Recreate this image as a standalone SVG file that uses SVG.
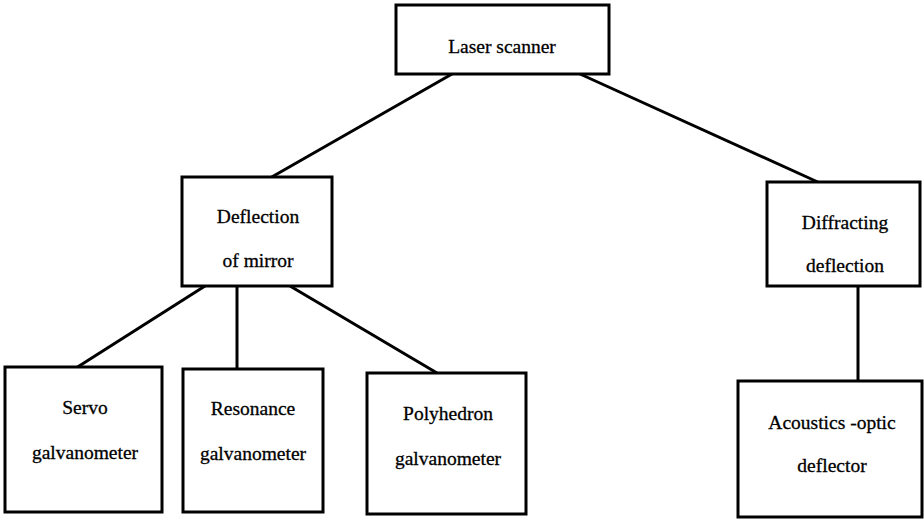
<svg xmlns="http://www.w3.org/2000/svg" width="924" height="520" viewBox="0 0 924 520">
<style>
.box{fill:#fff;stroke:#000;stroke-width:3}
text{font-family:'Liberation Serif','Times New Roman',serif;font-size:19.5px;fill:#000;stroke:#000;stroke-width:0.3;text-anchor:middle}
.c line{stroke:#000;stroke-width:3}
</style>
<rect width="924" height="520" fill="#fff"/>
<g class="c" id="connectors">
<line x1="452" y1="74" x2="270" y2="178"/>
<line x1="580" y1="74" x2="820" y2="183"/>
<line x1="205" y1="286" x2="76" y2="368"/>
<line x1="237" y1="286" x2="237" y2="369"/>
<line x1="290" y1="286" x2="437" y2="373"/>
<line x1="858" y1="286" x2="858" y2="381"/>
</g>
<g id="n-laser"><rect class="box" x="396" y="5" width="213" height="69"/><text x="502" y="53">Laser scanner</text></g>
<g id="n-mirror"><rect class="box" x="182" y="177" width="150" height="109"/><text x="258" y="223">Deflection</text><text x="258" y="267">of mirror</text></g>
<g id="n-diffract"><rect class="box" x="767" y="182" width="153" height="104"/><text x="845" y="229">Diffracting</text><text x="845" y="272">deflection</text></g>
<g id="n-servo"><rect class="box" x="5" y="367" width="157" height="145"/><text x="85" y="414">Servo</text><text x="85" y="459">galvanometer</text></g>
<g id="n-resonance"><rect class="box" x="183" y="369" width="140" height="143"/><text x="253" y="415">Resonance</text><text x="253" y="460">galvanometer</text></g>
<g id="n-poly"><rect class="box" x="367" y="373" width="159" height="141"/><text x="448" y="420">Polyhedron</text><text x="448" y="465">galvanometer</text></g>
<g id="n-acoustic"><rect class="box" x="738" y="381" width="184" height="136"/><text x="832" y="429">Acoustics -optic</text><text x="832" y="472">deflector</text></g>
</svg>
